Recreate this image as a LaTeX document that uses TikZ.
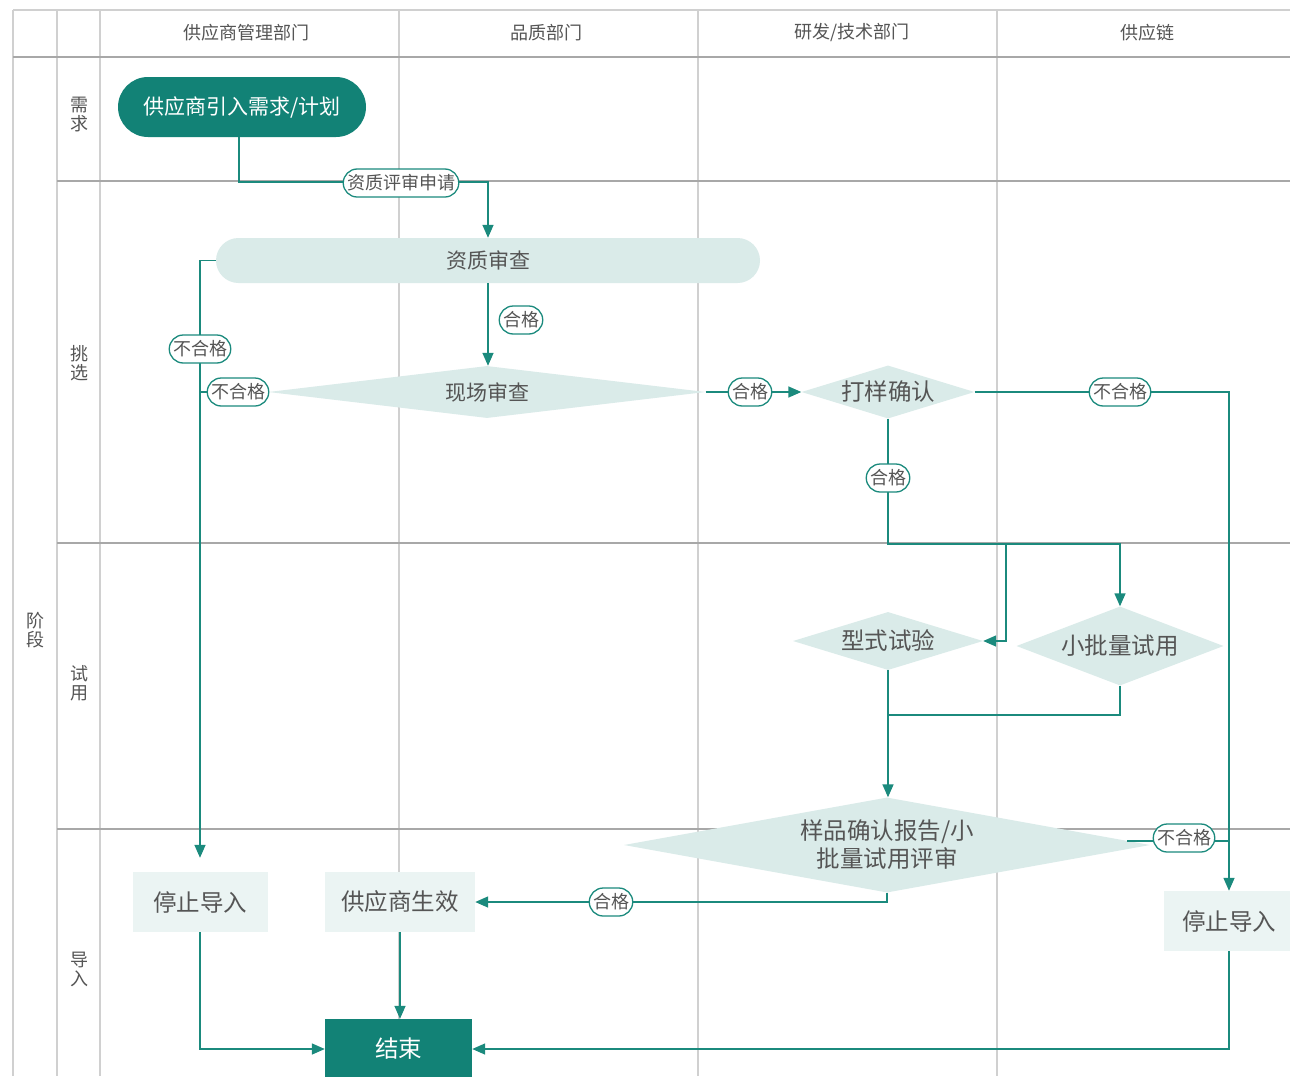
\documentclass[tikz,border=0pt]{standalone}
\usepackage{fontspec}
\setmainfont{Noto Sans CJK SC}
\usetikzlibrary{arrows.meta,shapes.geometric,shapes.misc}
\definecolor{tealdark}{HTML}{128276}
\definecolor{tealline}{HTML}{1B8A7D}
\definecolor{lightfill}{HTML}{DAEBE9}
\definecolor{boxfill}{HTML}{EBF4F3}
\definecolor{txtgray}{HTML}{555555}
\definecolor{vgrid}{HTML}{D0D0D0}
\definecolor{hgrid}{HTML}{A8A8A8}
\tikzset{
  hdr/.style={text=txtgray,font=\fontsize{18}{20}\selectfont},
  lanelbl/.style={text=txtgray,font=\fontsize{18}{19}\selectfont,align=center},
  bigtxt/.style={font=\fontsize{21}{28}\selectfont},
  hugetxt/.style={font=\fontsize{23.5}{28}\selectfont},
  pilldark/.style={rounded rectangle,fill=tealdark,text=white,bigtxt,minimum width=248pt,minimum height=60pt,inner sep=0pt},
  pilllight/.style={rounded rectangle,fill=lightfill,text=txtgray,bigtxt,minimum width=544pt,minimum height=45pt,inner sep=0pt},
  dia/.style={diamond,fill=lightfill,text=txtgray,hugetxt,inner sep=0pt,align=center},
  lbox/.style={rectangle,fill=boxfill,text=txtgray,hugetxt,inner sep=0pt},
  endbox/.style={rectangle,fill=tealdark,text=white,hugetxt,inner sep=0pt,minimum width=147pt,minimum height=60pt},
  conn/.style={draw=tealline,line width=1.5pt},
  arr/.style={conn,-{Triangle[length=13pt,width=11pt]}},
  lbl/.style={rounded rectangle,draw=tealline,line width=1.3pt,fill=white,text=txtgray,font=\fontsize{18}{19}\selectfont,inner xsep=1pt,inner ysep=3pt,minimum height=28pt}
}
\begin{document}
\begin{tikzpicture}[x=1pt,y=-1pt]
\useasboundingbox (0,0) rectangle (1290,1076);
\fill[white] (0,0) rectangle (1290,1076);
% grid
\draw[draw=vgrid,line width=2pt] (13,10) -- (1290,10);
\foreach \xx in {13,57,100,399,698,997} \draw[draw=vgrid,line width=1.2pt] (\xx,10) -- (\xx,1076);
\draw[draw=hgrid,line width=1.3pt] (13,57) -- (1290,57);
\foreach \yy in {181,543,829} \draw[draw=hgrid,line width=1.3pt] (57,\yy) -- (1290,\yy);
% headers
\node[hdr] (h1) at (246,33) {供应商管理部门};
\node[hdr] (h2) at (546,33) {品质部门};
\node[hdr] (h3) at (852,33) {研发/技术部门};
\node[hdr] (h4) at (1147,33) {供应链};
\node[lanelbl] (l0) at (35,630) {阶\\段};
\node[lanelbl] (l1) at (79,115) {需\\求};
\node[lanelbl] (l2) at (79,363) {挑\\选};
\node[lanelbl] (l3) at (79,683) {试\\用};
\node[lanelbl] (l4) at (79,969) {导\\入};
% nodes
\node[pilldark] (start) at (242,107) {供应商引入需求/计划};
\node[pilllight] (zq) at (488,260.5) {资质审查};
\node[dia,bigtxt,aspect=8.4,minimum width=437pt,minimum height=52pt] (xc) at (487,392) {现场审查};
\node[dia,aspect=3.3,minimum width=173pt,minimum height=53pt] (dy) at (888,392) {打样确认};
\node[dia,aspect=3.3,minimum width=190pt,minimum height=58pt] (xs) at (888,641) {型式试验};
\node[dia,aspect=2.6,minimum width=207pt,minimum height=79pt] (xpl) at (1120,646) {小批量试用};
\node[dia,aspect=5.5,minimum width=526pt,minimum height=95pt] (yp) at (887,845) {样品确认报告/小\\批量试用评审};
\node[lbox,minimum width=135pt,minimum height=60pt] (stopL) at (200,902) {停止导入};
\node[lbox,minimum width=150pt,minimum height=60pt] (sx) at (400,902) {供应商生效};
\node[lbox,minimum width=130pt,minimum height=60pt] (stopR) at (1229,921) {停止导入};
\node[endbox] (end) at (398.5,1049) {结束};
% helper coordinates
\coordinate (b1) at (488,182);
\coordinate (jl) at (200,392);
\coordinate (j2) at (1006,544);
\coordinate (j3) at (888,715);
% connectors
\draw[arr] (start.south) ++(-3,0) |- (b1) -- (zq.north);
\draw[arr] (zq.south) -- (zq.south |- xc.north);
\draw[arr,shorten >=14pt] (zq.west) -| (stopL.north);
\draw[conn] (xc.west) -- (jl);
\draw[arr] (xc.east) -- (dy.west);
\draw[arr] (dy.east) -| (stopR.north);
\draw[arr] (dy.south) |- (j2) -| (xpl.north);
\draw[arr] (j2) |- (xs.east);
\draw[arr] (xs.south) -- (xs.south |- yp.north);
\draw[conn] (xpl.south) |- (j3);
\draw[arr] (yp.south) |- (sx.east);
\draw[conn] (yp.1.7) -- (yp.1.7 -| stopR.north);
\draw[arr] (stopL.south) |- (end.west);
\draw[arr] (sx.south) -- (sx.south |- end.north);
\draw[arr] (stopR.south) |- (end.east);
% labels
\node[lbl] (t1) at (401,183) {资质评审申请};
\node[lbl] (t2) at (521,320) {合格};
\node[lbl] (t3) at (200,349) {不合格};
\node[lbl] (t4) at (238,392) {不合格};
\node[lbl] (t5) at (750,392) {合格};
\node[lbl] (t6) at (1120,392) {不合格};
\node[lbl] (t7) at (888,478) {合格};
\node[lbl] (t8) at (1184,838) {不合格};
\node[lbl] (t9) at (611,902) {合格};
\end{tikzpicture}
\end{document}
